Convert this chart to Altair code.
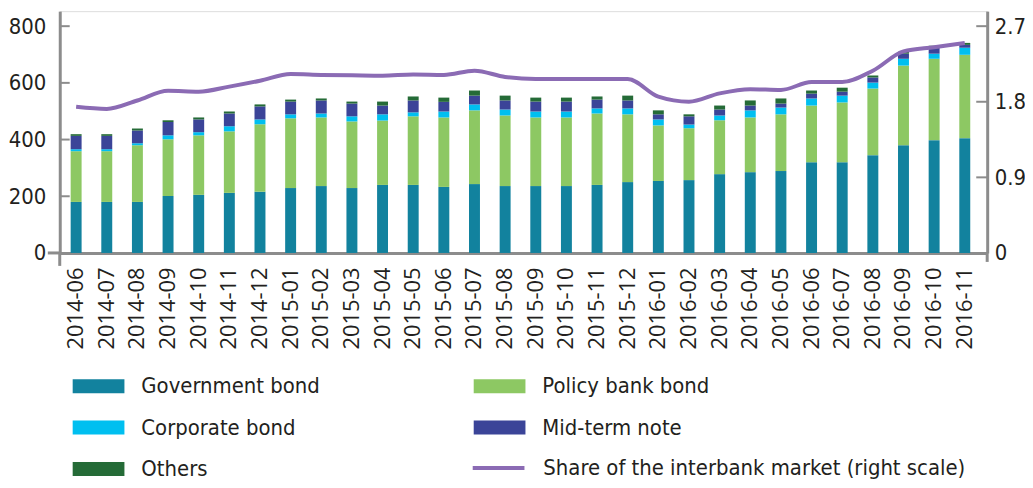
import altair as alt
import pandas as pd

months = ["2014-06", "2014-07", "2014-08", "2014-09", "2014-10", "2014-11", "2014-12",
          "2015-01", "2015-02", "2015-03", "2015-04", "2015-05", "2015-06", "2015-07",
          "2015-08", "2015-09", "2015-10", "2015-11", "2015-12",
          "2016-01", "2016-02", "2016-03", "2016-04", "2016-05", "2016-06", "2016-07",
          "2016-08", "2016-09", "2016-10", "2016-11"]
government = [180, 180, 180, 201, 205, 212, 216, 229, 236, 229, 240, 240, 233, 243, 236,
              236, 236, 240, 250, 254, 257, 278, 285, 289, 320, 320, 345, 380, 398, 405]
policy_bank = [179, 179, 200, 200, 210, 217, 238, 246, 242, 235, 227, 242, 245, 260, 249,
               242, 242, 252, 239, 196, 183, 190, 193, 200, 200, 211, 235, 281, 287, 294]
corporate = [7, 7, 7, 14, 11, 18, 17, 14, 14, 18, 22, 14, 21, 21, 21,
             21, 21, 18, 21, 21, 13, 17, 25, 24, 25, 24, 21, 24, 18, 25]
mid_term = [47, 47, 45, 47, 45, 45, 46, 45, 46, 45, 31, 42, 34, 31, 32,
            35, 35, 31, 28, 18, 29, 21, 17, 14, 17, 14, 18, 18, 21, 10]
others = [6, 6, 7, 6, 7, 7, 7, 7, 7, 7, 14, 14, 15, 18, 17,
          14, 14, 11, 17, 14, 7, 14, 18, 18, 11, 14, 7, 7, 7, 7]
share = [1.74, 1.715, 1.815, 1.93, 1.92, 1.98, 2.05, 2.13, 2.12, 2.115, 2.11, 2.125, 2.12, 2.17, 2.095,
         2.07, 2.07, 2.07, 2.07, 1.86, 1.80, 1.90, 1.95, 1.94, 2.035, 2.035, 2.17, 2.40, 2.45, 2.50]

# stacking order (bottom to top)
bar_names = ["Government bond", "Policy bank bond", "Corporate bond", "Mid-term note", "Others"]
bar_colors = ["#12829e", "#8dc863", "#00bff0", "#3b4498", "#256b37"]
# legend order (filled column by column)
legend_names = ["Government bond", "Corporate bond", "Others", "Policy bank bond", "Mid-term note"]
legend_colors = ["#12829e", "#00bff0", "#256b37", "#8dc863", "#3b4498"]
line_name = "Share of the interbank market (right scale)"
line_color = "#8b6bb4"
left_ticks = [200, 400, 600, 800]
right_ticks = [0.9, 1.8, 2.7]

bar_series = [government, policy_bank, corporate, mid_term, others]
rows = []
for k, vals in enumerate(bar_series):
    for m, v in zip(months, vals):
        rows.append({"month": m, "series": bar_names[k], "value": v, "order": k})
bars_df = pd.DataFrame(rows)
line_df = pd.DataFrame({"month": months, "share": share, "series": line_name})
lt_df = pd.DataFrame({"v": left_ticks})
rt_df = pd.DataFrame({"v": right_ticks})
one_df = pd.DataFrame({"a": [0]})

W, H = 932, 243
AXIS_COLOR = "#8c8c8c"
NARROW = "DejaVu Sans Condensed, Liberation Sans, sans-serif"
TEXT = "#231f20"

x_enc = alt.X("month:N", sort=months, title=None,
              scale=alt.Scale(paddingInner=0, paddingOuter=0.133, align=0.13),
              axis=alt.Axis(labelAngle=270, ticks=False, labelPadding=14, labelFont="Open Sans",
                            labelFontSize=22, labelColor=TEXT, domainColor=AXIS_COLOR,
                            domainWidth=3, grid=False))

ly_scale = alt.Scale(domain=[0, 853], nice=False)
ry_scale = alt.Scale(domain=[0, 2.7 * 853 / 800], nice=False)

bars = alt.Chart(bars_df).mark_bar(size=11).encode(
    x=x_enc,
    y=alt.Y("value:Q", stack="zero", scale=ly_scale, title=None,
            axis=alt.Axis(values=[0, 200, 400, 600, 800], format="d", ticks=False, labelPadding=14,
                          labelFont=NARROW, labelFontSize=22, labelColor=TEXT,
                          domainColor=AXIS_COLOR, domainWidth=3, grid=False, orient="left")),
    color=alt.Color("series:N", scale=alt.Scale(domain=legend_names, range=legend_colors),
                    legend=alt.Legend(orient="none", legendX=13, legendY=351, columns=2,
                                      columnPadding=154, rowPadding=4.5, title=None,
                                      symbolSize=2704, symbolType="M-1,-0.27H1V0.27H-1Z",
                                      symbolStrokeWidth=0, symbolOpacity=1, labelOffset=17,
                                      labelFont=NARROW, labelFontSize=22, labelColor=TEXT,
                                      labelLimit=700)),
    order=alt.Order("order:Q", sort="ascending"),
)

lticks = alt.Chart(lt_df).mark_rule(color=AXIS_COLOR, strokeWidth=2).encode(
    x=alt.value(0), x2=alt.value(10), y=alt.Y("v:Q", scale=ly_scale))

left_layer = alt.layer(bars, lticks)

line = alt.Chart(line_df).mark_line(strokeWidth=4, interpolate="monotone").encode(
    x=alt.X("month:N", sort=months),
    y=alt.Y("share:Q", scale=ry_scale, title=None,
            axis=alt.Axis(values=[0, 0.9, 1.8, 2.7], format="~g", ticks=False, labelPadding=7,
                          labelFont=NARROW, labelFontSize=22, labelColor=TEXT,
                          domainColor=AXIS_COLOR, domainWidth=3, grid=False, orient="right")),
    stroke=alt.Stroke("series:N", scale=alt.Scale(domain=[line_name], range=[line_color]),
                      legend=alt.Legend(orient="none", legendX=413, legendY=431, title=None,
                                        symbolType="stroke", symbolSize=2704,
                                        symbolStrokeWidth=4, labelOffset=17,
                                        labelFont=NARROW, labelFontSize=22, labelColor=TEXT,
                                        labelLimit=700)),
)

rticks = alt.Chart(rt_df).mark_rule(color=AXIS_COLOR, strokeWidth=2).encode(
    x=alt.value(W - 11), x2=alt.value(W), y=alt.Y("v:Q", scale=ry_scale))

right_layer = alt.layer(line, rticks)

# axis overhangs at the corners
ov1 = alt.Chart(one_df).mark_rule(color=AXIS_COLOR, strokeWidth=3).encode(
    x=alt.value(-12), x2=alt.value(0), y=alt.value(H))
ov2 = alt.Chart(one_df).mark_rule(color=AXIS_COLOR, strokeWidth=3).encode(
    x=alt.value(0), y=alt.value(H), y2=alt.value(H + 13))
ov3 = alt.Chart(one_df).mark_rule(color=AXIS_COLOR, strokeWidth=3).encode(
    x=alt.value(W), y=alt.value(H), y2=alt.value(H + 9))

chart = alt.layer(left_layer, right_layer, ov1, ov2, ov3).resolve_scale(
    y="independent"
).properties(
    width=W, height=H,
    padding={"left": 52, "top": 2, "right": 38, "bottom": 227},
    autosize=alt.AutoSizeParams(type="none"),
).configure_view(stroke=None).configure(background="white")

chart.save("out.html", embed_options={"renderer": "svg", "actions": False})
